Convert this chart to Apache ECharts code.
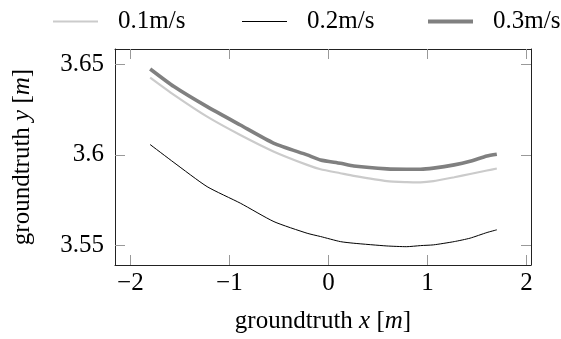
<!DOCTYPE html>
<html>
<head>
<meta charset="utf-8">
<script src="https://cdn.jsdelivr.net/npm/echarts@6/dist/echarts.min.js"></script>
<style>html,body{margin:0;padding:0;background:#fff;}#c{width:561px;height:339px;}</style>
</head>
<body>
<div id="c"></div>
<script>
const seriesNames = ['0.1m/s', '0.2m/s', '0.3m/s'];
const xs = [-1.8, -1.56, -1.225, -0.89, -0.55, -0.215, -0.08, 0.12, 0.256, 0.59, 0.79, 0.93, 1.06, 1.27, 1.43, 1.6, 1.7];
const v01 = [3.6426, 3.6331, 3.6211, 3.6110, 3.6018, 3.5945, 3.5921, 3.5899, 3.5884, 3.5855, 3.5850, 3.5849, 3.5855, 3.5877, 3.5895, 3.5914, 3.5925];
const v02 = [3.6057, 3.5958, 3.5825, 3.5734, 3.5632, 3.5568, 3.5550, 3.5522, 3.5513, 3.5498, 3.5494, 3.5500, 3.5504, 3.5522, 3.5541, 3.5572, 3.5587];
const v03 = [3.6474, 3.6377, 3.6266, 3.6165, 3.6064, 3.6000, 3.5972, 3.5954, 3.5939, 3.5923, 3.5921, 3.5921, 3.5927, 3.5945, 3.5965, 3.5994, 3.6004];
const xTicks = [-2, -1, 0, 1, 2];
const yTicks = [3.55, 3.6, 3.65];

const FONT = '"Liberation Serif", "DejaVu Serif", serif';
const FS = 25;
function pairs(v){ return xs.map((x,i)=>[x, v[i]]); }
const fmtX = v => String(v).replace('-', '\u2212');
const fmtY = v => String(Math.round(v*1000)/1000);

const axisLine = {show:true, onZero:false, lineStyle:{color:'#222', width:1}};
const xTick = {show:true, inside:true, length:10, customValues: xTicks, lineStyle:{color:'#999', width:1}};
const yTick = {show:true, inside:true, length:10, customValues: yTicks, lineStyle:{color:'#999', width:1}};
const chart = echarts.init(document.getElementById('c'), null, {renderer:'canvas'});
const legendBase = {
  top: 4, itemWidth: 45, icon: 'rect',
  textStyle: {fontFamily: FONT, fontSize: FS, color: '#000', padding: [0,0,0,15]},
  selectedMode: false
};
const nameRich = {a:{fontFamily:FONT,fontSize:FS,color:'#000'}, i:{fontFamily:FONT,fontSize:FS,fontStyle:'italic',color:'#000'}};
chart.setOption({
  animation: false,
  backgroundColor: '#fff',
  grid: {left: 115, right: 30, top: 49, bottom: 74, containLabel: false},
  legend: [
    Object.assign({}, legendBase, {left: 48, itemHeight: 2, data: [seriesNames[0]]}),
    Object.assign({}, legendBase, {left: 237, itemHeight: 1, data: [seriesNames[1]]}),
    Object.assign({}, legendBase, {left: 423, itemHeight: 4, data: [seriesNames[2]]})
  ],
  xAxis: [
    {type:'value', position:'bottom', min:-2.155, max:2.045,
     axisLine, axisTick: xTick, splitLine:{show:false},
     axisLabel:{customValues: xTicks, formatter: fmtX, fontFamily: FONT, fontSize: FS, color:'#000', margin: 6},
     name: '{a|groundtruth }{i|x}{a| [}{i|m}{a|]}', nameLocation:'middle', nameGap: 44,
     nameTextStyle:{fontFamily: FONT, fontSize: FS, rich: nameRich}},
    {type:'value', position:'top', min:-2.155, max:2.045,
     axisLine, axisTick: xTick, splitLine:{show:false}, axisLabel:{show:false}}
  ],
  yAxis: [
    {type:'value', position:'left', min:3.5393, max:3.6584,
     axisLine, axisTick: yTick, splitLine:{show:false},
     axisLabel:{customValues: yTicks, formatter: fmtY, fontFamily: FONT, fontSize: FS, color:'#000', margin: 11},
     name: '{a|groundtruth }{i|y}{a| [}{i|m}{a|]}', nameLocation:'middle', nameGap: 80, nameRotate: 90,
     nameTextStyle:{fontFamily: FONT, fontSize: FS, rich: nameRich}},
    {type:'value', position:'right', min:3.5393, max:3.6584,
     axisLine, axisTick: yTick, splitLine:{show:false}, axisLabel:{show:false}}
  ],
  series: [
    {name: seriesNames[0], type:'line', data: pairs(v01), symbol:'none', smooth:0.2,
     lineStyle:{color:'#cbcbcb', width:2.2}, itemStyle:{color:'#cbcbcb'}, z:2},
    {name: seriesNames[1], type:'line', data: pairs(v02), symbol:'none', smooth:0.2,
     lineStyle:{color:'#000', width:1}, itemStyle:{color:'#000'}, z:3},
    {name: seriesNames[2], type:'line', data: pairs(v03), symbol:'none', smooth:0.2,
     lineStyle:{color:'#808080', width:3.6}, itemStyle:{color:'#808080'}, z:4}
  ]
});
</script>
</body>
</html>
